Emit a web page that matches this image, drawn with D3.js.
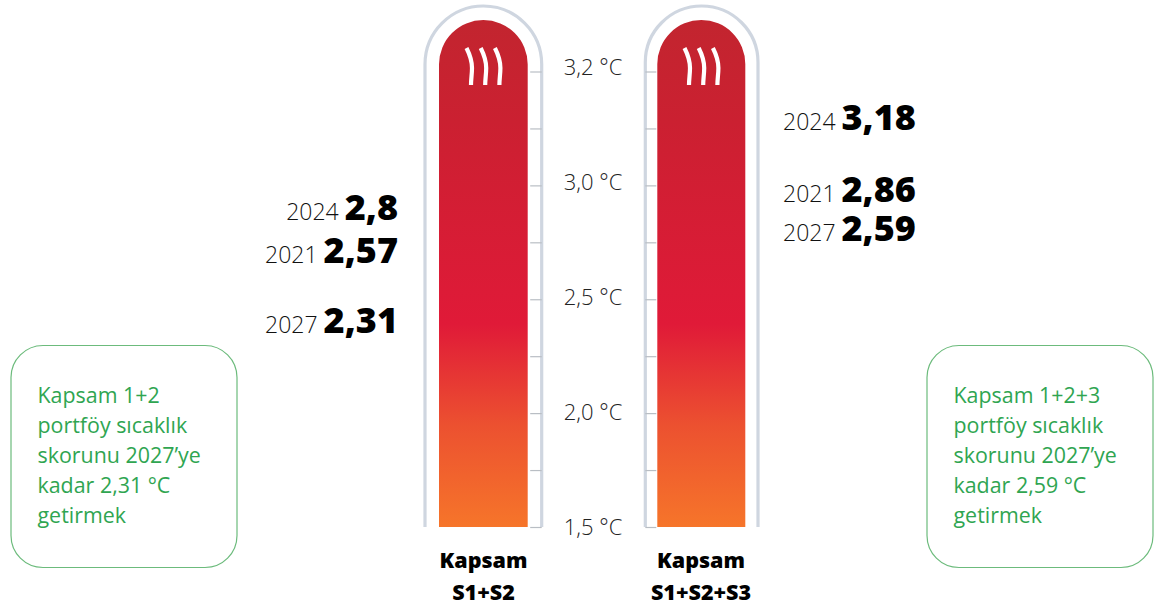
<!DOCTYPE html>
<html>
<head>
<meta charset="utf-8">
<script src="https://cdn.jsdelivr.net/npm/d3@7"></script>
<style>
body { margin: 0; background: #fff; }
svg { display: block; }
text { font-family: "Open Sans", sans-serif; }
</style>
</head>
<body>
<div id="chart"></div>
<script>
// data
var scaleLabels = ["1,5 °C", "2,0 °C", "2,5 °C", "3,0 °C", "3,2 °C"];
var tickSteps = [0, 1, 2, 3, 4, 5, 6, 7, 8];
var years = ["2021", "2024", "2027"];
var scope12 = [2.57, 2.8, 2.31];
var scope123 = [2.86, 3.18, 2.59];
var scopeNames = [["Kapsam", "S1+S2"], ["Kapsam", "S1+S2+S3"]];
var noteLeft = ["Kapsam 1+2", "portföy sıcaklık", "skorunu 2027’ye", "kadar 2,31 °C", "getirmek"];
var noteRight = ["Kapsam 1+2+3", "portföy sıcaklık", "skorunu 2027’ye", "kadar 2,59 °C", "getirmek"];
var waves = [0, 1, 2];

var width = 1161, height = 606;
var svg = d3.select("#chart").append("svg")
	.attr("width", width)
	.attr("height", height);

// gradient of the mercury
var stops = [[0, "#c2252f"], [0.2, "#cb2031"], [0.6, "#e01a38"], [0.8, "#ec5130"], [1, "#f6752a"]];
svg.append("defs").append("linearGradient")
	.attr("id", "heat")
	.attr("x1", 0).attr("y1", 0).attr("x2", 0).attr("y2", 1)
	.selectAll("stop")
	.data(stops)
	.enter()
	.append("stop")
	.attr("offset", d => d[0])
	.attr("stop-color", d => d[1]);

// scales
var y = d3.scalePoint().domain(tickSteps).range([527, 71.5]);
var yLabel = d3.scalePoint().domain(scaleLabels).range([527, 67]);
// the value labels sit where the designer put them, not on the thermometer scale
var yValue = d3.scaleLinear()
	.domain([2.31, 2.57, 2.59, 2.8, 2.86, 3.18])
	.range([333, 263, 241, 220, 202, 130]);

// arch shaped path, open at the bottom
function tube(x0, x1, top, bottom, closed){
	var r = (x1 - x0) / 2;
	var p = d3.path();
	p.moveTo(x0, bottom);
	p.lineTo(x0, top + r);
	p.arc(x0 + r, top + r, r, Math.PI, 0);
	p.lineTo(x1, bottom);
	if(closed) p.closePath();
	return p.toString();
}

function thermometer(outL, outR, fillL, fillR, waveX){
	svg.append("path")
		.attr("d", tube(outL, outR, 6, 527, false))
		.attr("fill", "none")
		.attr("stroke", "#cfd6e0")
		.attr("stroke-width", 3.2);
	svg.append("path")
		.attr("d", tube(fillL, fillR, 20, 527, true))
		.attr("fill", "url(#heat)");
	svg.selectAll(null)
		.data(waves)
		.enter()
		.append("path")
		.attr("transform", d => "translate(" + (waveX + d * 14.2) + ",0)")
		.attr("d", "M0,48 C3,54 5.5,60 5.5,68 C5.5,74 4.5,79 4.5,85")
		.attr("fill", "none")
		.attr("stroke", "#fff")
		.attr("stroke-width", 4.2);
}

thermometer(425, 541.7, 439, 527.7, 466.5);
thermometer(645.3, 758, 657.3, 745.3, 684.5);

// tick marks inside both tubes
var tickLeft = svg.append("g")
	.attr("transform", "translate(541.7,0)")
	.call(d3.axisLeft(y).tickSize(11.5).tickFormat(""));
var tickRight = svg.append("g")
	.attr("transform", "translate(645.3,0)")
	.call(d3.axisRight(y).tickSize(11).tickFormat(""));
[tickLeft, tickRight].forEach(function(g){
	g.select(".domain").remove();
	g.selectAll("line").attr("stroke", "#b9bec4").attr("stroke-width", 1.2);
});

// scale labels in the middle
var labelAxis = svg.append("g")
	.attr("transform", "translate(593,0)")
	.call(d3.axisRight(yLabel).tickSize(0).tickPadding(0));
labelAxis.select(".domain").remove();
labelAxis.selectAll("text")
	.attr("text-anchor", "middle")
	.attr("font-family", "'Open Sans', sans-serif")
	.attr("font-size", 22)
	.attr("font-weight", 300)
	.attr("fill", "#222");

// year + value labels
function valueLabels(values, x, anchor){
	var t = svg.selectAll(null)
		.data(values)
		.enter()
		.append("text")
		.attr("x", x)
		.attr("y", d => yValue(d))
		.attr("text-anchor", anchor);
	t.append("tspan")
		.attr("font-size", 23)
		.attr("font-weight", 300)
		.attr("fill", "#111")
		.text((d, i) => years[i] + " ");
	t.append("tspan")
		.attr("font-size", 36)
		.attr("font-weight", 800)
		.attr("fill", "#000")
		.text(d => String(d).replace(".", ","));
}
valueLabels(scope12, 398, "end");
valueLabels(scope123, 783, "start");

// names below the tubes
[483.5, 701].forEach(function(x, i){
	svg.selectAll(null)
		.data(scopeNames[i])
		.enter()
		.append("text")
		.attr("x", x)
		.attr("y", (d, j) => 568 + j * 32)
		.attr("text-anchor", "middle")
		.attr("font-size", 21.5)
		.attr("font-weight", 800)
		.attr("fill", "#000")
		.text(d => d);
});

// green notes
function note(lines, x){
	svg.append("rect")
		.attr("x", x)
		.attr("y", 345.5)
		.attr("width", 226)
		.attr("height", 222)
		.attr("rx", 32)
		.attr("fill", "none")
		.attr("stroke", "#6cbb7c")
		.attr("stroke-width", 1.2);
	svg.selectAll(null)
		.data(lines)
		.enter()
		.append("text")
		.attr("x", x + 26.5)
		.attr("y", (d, i) => 403 + i * 30)
		.attr("font-size", 21.4)
		.attr("fill", "#2fa551")
		.text(d => d);
}
note(noteLeft, 11);
note(noteRight, 927);
</script>
</body>
</html>
